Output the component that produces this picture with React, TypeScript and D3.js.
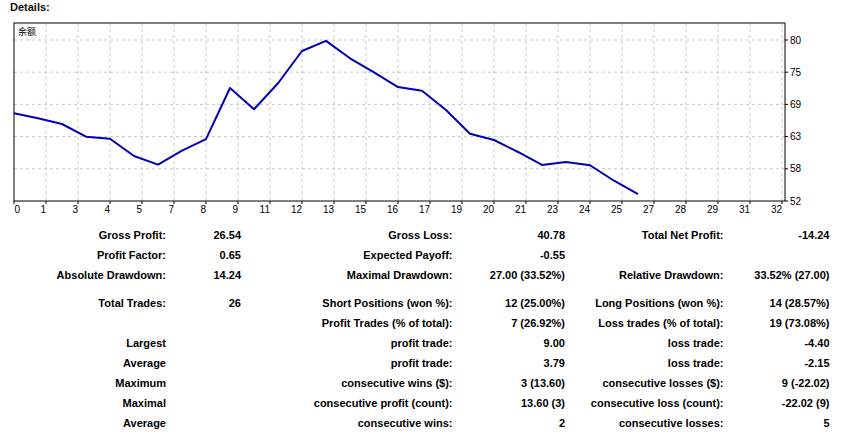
import React from "react";
import * as d3 from "d3";

const trades = d3.range(27);
const balance = [
  67.79, 66.91, 65.91, 63.67, 63.32, 60.27, 58.75, 61.21, 63.25, 72.25, 68.5, 73.08, 78.76, 80.55,
  77.48, 74.98, 72.42, 71.77, 68.37, 64.2, 63.09, 60.98, 58.69, 59.22, 58.64, 55.92, 53.55,
];
const xTickLabels = ["0","1","3","4","5","7","8","9","11","12","13","15","16","17","19","20","21","23","24","25","27","28","29","31","32"];
const yTickLabels = ["52","58","63","69","75","80"];
const seriesName = "余额";

const col1Labels = ["Gross Profit:", "Profit Factor:", "Absolute Drawdown:", "Total Trades:", "", "Largest", "Average", "Maximum", "Maximal", "Average"];
const col1Values = ["26.54", "0.65", "14.24", "26", "", "", "", "", "", ""];
const col2Labels = ["Gross Loss:", "Expected Payoff:", "Maximal Drawdown:", "Short Positions (won %):", "Profit Trades (% of total):", "profit trade:", "profit trade:", "consecutive wins ($):", "consecutive profit (count):", "consecutive wins:"];
const col2Values = ["40.78", "-0.55", "27.00 (33.52%)", "12 (25.00%)", "7 (26.92%)", "9.00", "3.79", "3 (13.60)", "13.60 (3)", "2"];
const col3Labels = ["Total Net Profit:", "", "Relative Drawdown:", "Long Positions (won %):", "Loss trades (% of total):", "loss trade:", "loss trade:", "consecutive losses ($):", "consecutive loss (count):", "consecutive losses:"];
const col3Values = ["-14.24", "", "33.52% (27.00)", "14 (28.57%)", "19 (73.08%)", "-4.40", "-2.15", "9 (-22.02)", "-22.02 (9)", "5"];

const W = 847, H = 435;
const L = 14, R = 785, T = 23, B = 201;
const rowY = [235, 255, 275, 302.7, 322.7, 343.3, 363.3, 383.3, 403.3, 423.3];
const FONT = "'Liberation Sans', Arial, sans-serif";

export default function App() {
  const xMax = 32;
  const x = d3.scaleLinear().domain([0, xMax]).range([L, 782]);
  const yMin = 52.35, yMax = 80.7;
  const y = d3.scaleLinear().domain([yMin, yMax]).range([B, 40]);
  const xTicks = xTickLabels.map((_, i) => (i * xMax) / (xTickLabels.length - 1));
  const yTicks = yTickLabels.map((_, i) => yMin + (i * (yMax - yMin)) / (yTickLabels.length - 1));
  const line = d3.line<number>().x((_, i) => x(trades[i])).y((d) => y(d));

  const cols = [
    { labels: col1Labels, values: col1Values, lx: 166, vx: 241 },
    { labels: col2Labels, values: col2Values, lx: 452.5, vx: 565 },
    { labels: col3Labels, values: col3Values, lx: 723.5, vx: 829.5 },
  ];

  return (
    <svg width={W} height={H} style={{ position: "absolute", left: 0, top: 0, background: "#fff" }}>
      <text x={10} y={11} fontFamily={FONT} fontWeight="bold" fontSize={11} fill="#111">Details:</text>
      {/* grid */}
      {xTicks.slice(1).map((t, i) => (
        <line key={"vx" + i} x1={x(t)} x2={x(t)} y1={T} y2={B} stroke="#c8c8c8" strokeDasharray="3,3" />
      ))}
      {yTicks.slice(1).map((t, i) => (
        <line key={"hy" + i} x1={L} x2={R} y1={y(t)} y2={y(t)} stroke="#c8c8c8" strokeDasharray="3,3" />
      ))}
      <rect x={L} y={T} width={R - L} height={B - T} fill="none" stroke="#000" strokeWidth={1} />
      {/* y ticks */}
      {yTicks.map((t, i) => (
        <g key={"yt" + i}>
          <line x1={R} x2={R + 3} y1={y(t)} y2={y(t)} stroke="#000" />
          <text x={R + 5} y={y(t)} dy="0.35em" fontFamily={FONT} fontSize={10} fill="#000">{yTickLabels[i]}</text>
        </g>
      ))}
      {/* x ticks */}
      {xTicks.map((t, i) => (
        <g key={"xt" + i}>
          <line x1={x(t)} x2={x(t)} y1={B} y2={B + 3} stroke="#000" />
          <text x={i === 0 ? x(t) + 0.5 : x(t)} y={213} textAnchor={i === 0 ? "start" : "end"} fontFamily={FONT} fontSize={10} fill="#000">{xTickLabels[i]}</text>
        </g>
      ))}
      <text x={18} y={35} fontFamily="'Noto Sans CJK SC', sans-serif" fontSize={9} fill="#000">{seriesName}</text>
      <path d={line(balance) || ""} fill="none" stroke="#0000b4" strokeWidth={2} strokeLinejoin="round" />
      {/* table */}
      {cols.map((c, ci) =>
        rowY.map((ry, ri) => (
          <g key={"c" + ci + "r" + ri}>
            {c.labels[ri] && (
              <text x={c.lx} y={ry} dy="0.35em" textAnchor="end" fontFamily={FONT} fontWeight="bold" fontSize={11} fill="#000">{c.labels[ri]}</text>
            )}
            {c.values[ri] && (
              <text x={c.vx} y={ry} dy="0.35em" textAnchor="end" fontFamily={FONT} fontWeight="bold" fontSize={11} fill="#000">{c.values[ri]}</text>
            )}
          </g>
        ))
      )}
    </svg>
  );
}
